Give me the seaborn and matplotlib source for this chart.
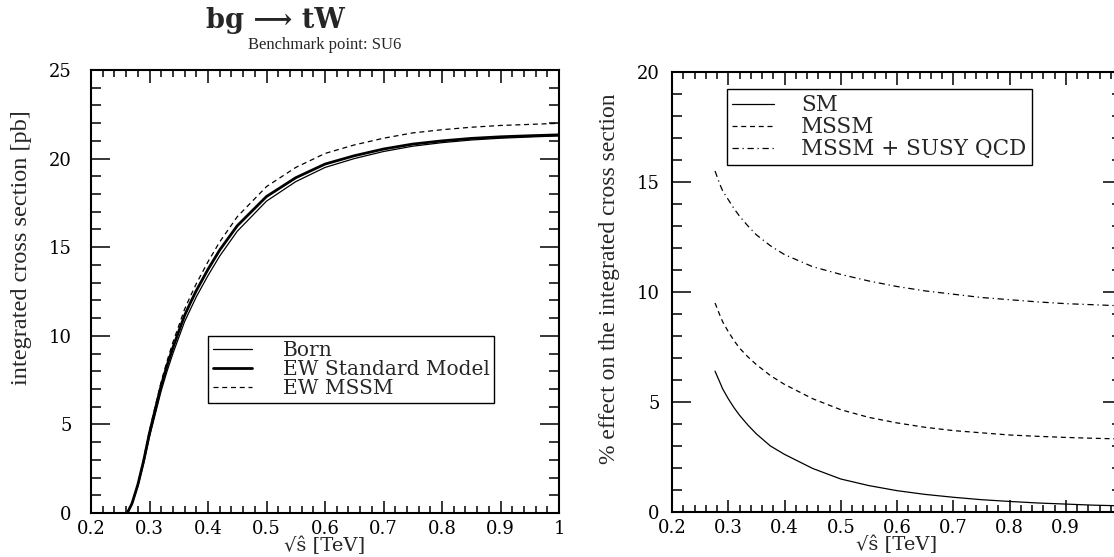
import matplotlib
matplotlib.use("Agg")
import matplotlib.pyplot as plt
import seaborn as sns
import numpy as np
import pandas as pd
from matplotlib.ticker import MultipleLocator

# ---------------- data ----------------
x_left = [0.262, 0.27, 0.28, 0.29, 0.30, 0.31, 0.32, 0.33, 0.34, 0.35, 0.36, 0.37,
          0.38, 0.40, 0.42, 0.45, 0.50, 0.55, 0.60, 0.65, 0.70, 0.75, 0.80, 0.85,
          0.90, 0.95, 1.00]
born = [0.0, 0.5, 1.5, 2.8, 4.3, 5.6, 6.9, 8.0, 9.0, 9.9, 10.8, 11.5,
        12.2, 13.4, 14.5, 15.9, 17.6, 18.7, 19.5, 20.0, 20.4, 20.7, 20.9, 21.05,
        21.15, 21.22, 21.28]
ew_sm = [0.0, 0.53, 1.59, 2.95, 4.52, 5.87, 7.2, 8.33, 9.33, 10.25, 11.15, 11.87,
         12.55, 13.75, 14.84, 16.21, 17.86, 18.92, 19.69, 20.16, 20.54, 20.82, 21.0,
         21.14, 21.23, 21.29, 21.34]
ew_mssm = [0.0, 0.55, 1.64, 3.04, 4.65, 6.04, 7.41, 8.58, 9.63, 10.56, 11.5, 12.24,
           12.94, 14.18, 15.3, 16.72, 18.42, 19.5, 20.29, 20.77, 21.15, 21.45, 21.63,
           21.77, 21.87, 21.93, 21.99]

x_right = [0.2765, 0.285, 0.29, 0.30, 0.31, 0.32, 0.335, 0.35, 0.375, 0.40, 0.45,
           0.50, 0.55, 0.60, 0.65, 0.70, 0.75, 0.80, 0.85, 0.90, 0.95, 1.00]
eff_sm = [6.4, 5.9, 5.6, 5.15, 4.75, 4.4, 3.95, 3.55, 3.0, 2.62, 1.98,
          1.5, 1.2, 0.97, 0.8, 0.67, 0.56, 0.48, 0.41, 0.36, 0.31, 0.28]
eff_mssm = [9.5, 8.95, 8.65, 8.2, 7.8, 7.45, 7.05, 6.7, 6.2, 5.8, 5.15,
            4.65, 4.3, 4.05, 3.85, 3.7, 3.6, 3.5, 3.44, 3.39, 3.35, 3.32]
eff_susy = [15.5, 14.9, 14.6, 14.2, 13.8, 13.45, 13.0, 12.6, 12.1, 11.7, 11.15,
            10.8, 10.5, 10.25, 10.05, 9.9, 9.75, 9.65, 9.55, 9.47, 9.42, 9.37]

left_labels = ["Born", "EW Standard Model", "EW MSSM"]
right_labels = ["SM", "MSSM", "MSSM + SUSY QCD"]
x_tick_labels = ["0.2", "0.3", "0.4", "0.5", "0.6", "0.7", "0.8", "0.9", "1"]
title_main = "bg ⟶ tW"
title_sub = "Benchmark point: SU6"
xlabel = "√ŝ [TeV]"
ylabel_left = "integrated cross section [pb]"
ylabel_right = "% effect on the integrated cross section"

# ---------------- style ----------------
sns.set_theme(style="ticks")
plt.rcParams["font.family"] = ["DejaVu Serif", "DejaVu Sans"]
plt.rcParams["axes.linewidth"] = 1.5

fig = plt.figure(figsize=(11.14, 5.57), dpi=100)
axL = fig.add_axes([91 / 1114, 44 / 557, 468 / 1114, 443 / 557])
axR = fig.add_axes([672 / 1114, 45 / 557, 450 / 1114, 440 / 557])

dfL = pd.DataFrame({"x": x_left, "born": born, "sm": ew_sm, "mssm": ew_mssm})
sns.lineplot(data=dfL, x="x", y="born", ax=axL, color="black", linewidth=0.9,
             label=left_labels[0])
sns.lineplot(data=dfL, x="x", y="sm", ax=axL, color="black", linewidth=2.0,
             label=left_labels[1])
sns.lineplot(data=dfL, x="x", y="mssm", ax=axL, color="black", linewidth=0.9,
             linestyle=(0, (4, 3)), label=left_labels[2])

dfR = pd.DataFrame({"x": x_right, "sm": eff_sm, "mssm": eff_mssm, "susy": eff_susy})
sns.lineplot(data=dfR, x="x", y="sm", ax=axR, color="black", linewidth=0.9,
             label=right_labels[0])
sns.lineplot(data=dfR, x="x", y="mssm", ax=axR, color="black", linewidth=0.9,
             linestyle=(0, (4, 3)), label=right_labels[1])
sns.lineplot(data=dfR, x="x", y="susy", ax=axR, color="black", linewidth=0.9,
             linestyle=(0, (5, 3, 1, 3)), label=right_labels[2])

for ax, ymax, ypad in ((axL, 25, 14), (axR, 20, 9)):
    ax.set_xlim(0.2, 1.0)
    ax.set_ylim(0, ymax)
    ax.xaxis.set_major_locator(MultipleLocator(0.1))
    ax.xaxis.set_minor_locator(MultipleLocator(0.02))
    ax.yaxis.set_major_locator(MultipleLocator(5))
    ax.yaxis.set_minor_locator(MultipleLocator(1))
    ax.tick_params(axis="both", which="both", direction="in", top=True, right=True,
                   colors="black", width=1.1)
    ax.tick_params(axis="x", which="major", length=9, pad=5, labelsize=13)
    ax.tick_params(axis="x", which="minor", length=5)
    ax.tick_params(axis="y", which="major", length=14, pad=ypad, labelsize=13)
    ax.tick_params(axis="y", which="minor", length=7)
    ax.set_xticks([0.2 + 0.1 * i for i in range(len(x_tick_labels))])
    for s in ax.spines.values():
        s.set_color("black")
        s.set_linewidth(1.5)
    ax.set_xlabel(xlabel, fontsize=14, labelpad=-1)
    ax.set_facecolor("white")

axL.set_xticklabels(x_tick_labels)
# right panel is cut by the picture edge: its last label ("1") is not visible
axR.set_xticklabels(x_tick_labels[:-1] + [""])

axL.set_ylabel(ylabel_left, family="Liberation Serif", fontsize=17.5)
axL.yaxis.set_label_coords(-0.126, 0.6)
axR.set_ylabel(ylabel_right, family="Liberation Serif", fontsize=17)
axR.yaxis.set_label_coords(-0.116, 0.53)

legL = axL.legend(loc="upper left", bbox_to_anchor=(0.25, 0.40), fontsize=14.5,
                  frameon=True, fancybox=False, edgecolor="black", framealpha=1,
                  handlelength=1.95, handletextpad=1.5, borderpad=0.25,
                  labelspacing=0.0, borderaxespad=0)
legL.get_frame().set_linewidth(1.0)
legR = axR.legend(loc="upper left", bbox_to_anchor=(0.122, 0.962), fontsize=15.5,
                  frameon=True, fancybox=False, edgecolor="black", framealpha=1,
                  handlelength=1.95, handletextpad=1.25, borderpad=0.25,
                  labelspacing=0.0, borderaxespad=0)
legR.get_frame().set_linewidth(1.0)

fig.text(275 / 1114, 1 - 20 / 557, title_main, ha="center", va="center",
         fontsize=19.5, fontweight="bold", family=["DejaVu Serif", "DejaVu Sans"])
fig.text(325 / 1114, 1 - 45 / 557, title_sub, ha="center", va="center",
         fontsize=12, family="Liberation Serif")

fig.savefig("out.png", dpi=100, facecolor="white")
